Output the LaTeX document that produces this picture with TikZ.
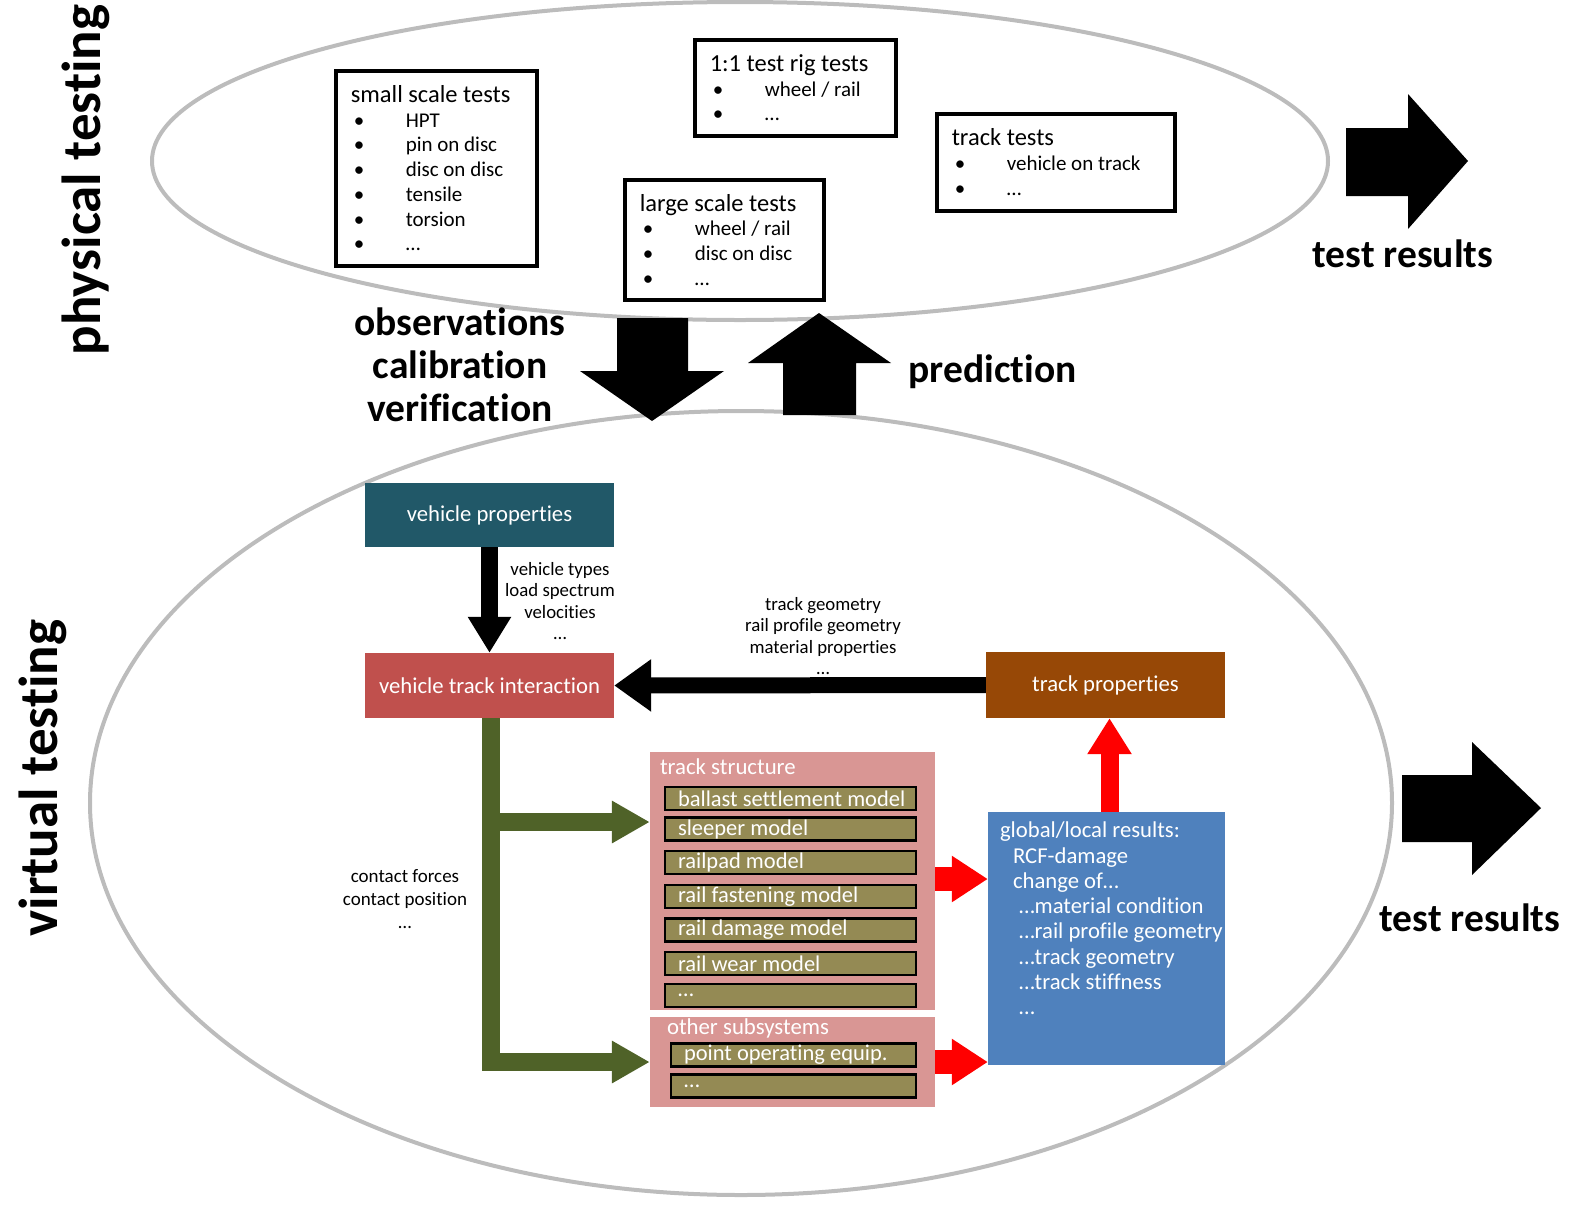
\documentclass[tikz,border=0pt]{standalone}
\usepackage{fontspec}
\setmainfont{Carlito}[Ligatures=NoCommon]
\usetikzlibrary{arrows.meta}
\definecolor{ellgray}{RGB}{188,188,188}
\definecolor{vpcol}{RGB}{33,88,104}
\definecolor{vticol}{RGB}{192,80,77}
\definecolor{tpcol}{RGB}{151,72,6}
\definecolor{tscol}{RGB}{217,150,148}
\definecolor{olivecol}{RGB}{148,138,84}
\definecolor{glcol}{RGB}{79,129,189}
\definecolor{grncol}{RGB}{79,98,40}
\newcommand{\itembul}{\makebox[55pt][l]{\hspace{3pt}\textbullet}}
\newcommand{\boxtitle}[2]{\makebox[#1pt][l]{\fontsize{24.5}{24.7}\selectfont #2}}
\newcommand{\mtext}[2]{\makebox[#1pt][l]{#2}}
\tikzset{
  ell/.style={draw=ellgray, line width=4},
  tbox/.style={draw, line width=3.5, fill=white, align=left, anchor=north west,
    inner xsep=15, font=\fontsize{21}{24.7}\selectfont},
  cbox/.style={minimum width=249, minimum height=65, text=white, font=\fontsize{22.7}{24}\selectfont},
  panel/.style={fill=tscol, minimum width=285},
  model/.style={draw, line width=2.5, fill=olivecol, text=white, minimum height=23, inner ysep=0,
    inner xsep=13, font=\fontsize{22.5}{22.5}\selectfont},
  ptitle/.style={anchor=west, text=white, font=\fontsize{22.8}{24}\selectfont, inner sep=0},
  small/.style={align=center, font=\fontsize{18.8}{21.3}\selectfont},
  big/.style={align=center, font=\bfseries\fontsize{39.5}{43}\selectfont},
  huge/.style={font=\bfseries\fontsize{55}{60}\selectfont, rotate=90},
  blk/.style={fill=black},
}
\begin{document}
\begin{tikzpicture}[x=1pt, y=-1pt]
\useasboundingbox (0,0) rectangle (1581,1208);
% ellipses
\draw[ell] (740,161) ellipse [x radius=588, y radius=159];
\draw[ell] (741,803) ellipse [x radius=651, y radius=392];

% side titles
\node[huge] (phys) at (86,180) {physical testing};
\node[huge] (virt) at (43,778) {virtual testing};

% physical test boxes
\node[tbox, minimum height=195] (sst) at (334,69) {\boxtitle{171}{small scale tests}\\
\itembul HPT\\ \itembul pin on disc\\ \itembul disc on disc\\ \itembul tensile\\ \itembul torsion\\ \itembul …};
\node[tbox, minimum height=96] (rig) at (693,38) {\boxtitle{171}{1:1 test rig tests}\\
\itembul wheel / rail\\ \itembul …};
\node[tbox, minimum height=120] (lst) at (623,178) {\boxtitle{169}{large scale tests}\\
\itembul wheel / rail\\ \itembul disc on disc\\ \itembul …};
\node[tbox, minimum height=97] (tt) at (935,112) {\boxtitle{208}{track tests}\\
\itembul vehicle on track\\ \itembul …};

% big block arrows
\fill[blk] (617,318) -- (688,318) -- (688,371) -- (724,371) -- (652,421) -- (580,371) -- (617,371) -- cycle;
\fill[blk] (783,415) -- (856,415) -- (856,363) -- (891,363) -- (819,313) -- (748,363) -- (783,363) -- cycle;
\fill[blk] (1346,128) -- (1408,128) -- (1408,94) -- (1468,161) -- (1408,229) -- (1408,196) -- (1346,196) -- cycle;
\fill[blk] (1402,775) -- (1472,775) -- (1472,742) -- (1541,808) -- (1472,875) -- (1472,842) -- (1402,842) -- cycle;

\node[big] (obs) at (460,365) {observations\\calibration\\verification};
\node[big, anchor=west] (pred) at (905,372) {prediction};
\node[big] (tr1) at (1403,254) {test results};
\node[big] (tr2) at (1470,918) {test results};

% virtual testing
\node[cbox, fill=vpcol, minimum height=64] (vp) at (489.5,515) {vehicle properties};
\node[cbox, fill=vticol] (vti) at (489.5,685.5) {vehicle track interaction};
\node[cbox, fill=tpcol, minimum width=239, minimum height=66] (tp) at (1105.5,685) {track properties};

\node[panel, minimum height=258] (ts) at (792.5,881) {};
\node[ptitle] (tstitle) at ([shift={(10,15)}]ts.north west) {track structure};
\node[panel, minimum height=90] (os) at (792.5,1062) {};
\node[ptitle] (ostitle) at ([shift={(17,12)}]os.north west) {other subsystems};

\node[model] (m1) at (790.5,798.5) {\mtext{225}{ballast settlement model}};
\node[model] (m2) at (790.5,829) {\mtext{225}{sleeper model}};
\node[model] (m3) at (790.5,862.5) {\mtext{225}{railpad model}};
\node[model] (m4) at (790.5,896.5) {\mtext{225}{rail fastening model}};
\node[model] (m5) at (790.5,930) {\mtext{225}{rail damage model}};
\node[model] (m6) at (790.5,963.5) {\mtext{225}{rail wear model}};
\node[model] (m7) at (790.5,995.5) {\mtext{225}{…}};
\node[model] (o1) at (793.5,1055) {\mtext{219}{point operating equip.}};
\node[model] (o2) at (793.5,1086) {\mtext{219}{…}};

\node[fill=glcol, minimum width=237, minimum height=253] (gl) at (1106.5,938.5) {};
\node[anchor=north west, inner sep=0, align=left, text=white, font=\fontsize{22.7}{25.3}\selectfont] (gltext) at ([shift={(12,10)}]gl.north west)
{global/local results:\\
\hspace*{13pt}RCF-damage\\
\hspace*{13pt}change of…\\
\hspace*{19pt}…material condition\\
\hspace*{19pt}…rail profile geometry\\
\hspace*{19pt}…track geometry\\
\hspace*{19pt}…track stiffness\\
\hspace*{19pt}…};

% connectors
\draw[line width=17, -{Triangle[length=36pt 0, width=41pt 0]}] (vp.south) -- (vti.north);
\draw[line width=16, -{Triangle[length=37pt 0, width=50pt 0]}] (tp.west) -- (vti.east);
\coordinate (br) at (491,822);
\draw[grncol, line width=18, line join=miter, -{Triangle[length=38pt 0, width=40pt 0]}] ([xshift=1.5]vti.south) |- (os.west);
\draw[grncol, line width=18, -{Triangle[length=38pt 0, width=40pt 0]}] (br) -- (br -| ts.west);
\coordinate (r1) at (935,879);
\draw[red, line width=24, -{Triangle[length=36pt 0, width=44pt 0]}] (r1) -- (r1 -| gl.west);
\draw[red, line width=24, -{Triangle[length=36pt 0, width=44pt 0]}] (os.east) -- (os.east -| gl.west);
\draw[red, line width=18, -{Triangle[length=36pt 0, width=42pt 0]}] ([xshift=3]gl.north) -- ([xshift=4]tp.south);

\node[small] (vplab) at (560,601) {vehicle types\\load spectrum\\velocities\\…};
\node[small] (tplab) at (823,636) {track geometry\\rail profile geometry\\material properties\\…};
\node[small, font=\fontsize{19}{23}\selectfont] (cflab) at (405,899) {contact forces\\contact position\\…};
\end{tikzpicture}
\end{document}
